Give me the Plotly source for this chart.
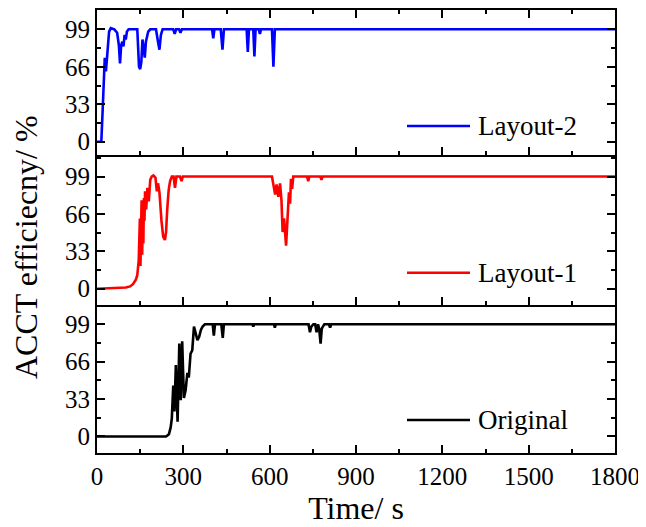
import plotly.graph_objects as go

# ---- data ----
t_layout2 = [0, 15, 20, 23, 27, 31, 35, 38, 42, 48, 60, 70, 76, 80, 84, 88, 92, 96, 100, 104, 110,
             140, 146, 150, 154, 158, 162, 166, 170, 174, 178, 185, 205, 212, 217, 222, 228, 265, 270,
             275, 285, 290, 295, 400, 404, 408, 430, 436, 441, 520, 524, 528, 543, 547, 551, 562, 566,
             570, 608, 613, 618, 1800]
v_layout2 = [0, 0, 30, 52, 74, 62, 75, 90, 97, 100, 99, 96, 85, 69, 85, 88, 84, 94, 90, 97, 99,
             99, 66, 64, 70, 90, 80, 74, 88, 92, 97, 99, 99, 88, 81, 94, 99, 99, 95,
             99, 99, 96, 99, 99, 91, 99, 99, 81, 99, 99, 79, 99, 99, 75, 99, 99, 95,
             99, 99, 66, 99, 99]

t_layout1 = [0, 60, 100, 115, 125, 135, 140, 145, 147, 149, 151, 153, 155, 157, 159, 161, 163, 165,
             167, 171, 175, 180, 185, 190, 196, 203, 208, 212, 217, 224, 230, 236, 240, 244, 249, 254,
             260, 266, 271, 276, 288, 294, 298, 608, 613, 619, 624, 630, 636, 641, 645, 650, 657, 661,
             667, 671, 674, 678, 682, 730, 734, 738, 776, 780, 784, 1800]
v_layout1 = [0, 0.5, 1, 2, 4, 8, 12, 25, 55, 62, 20, 70, 78, 30, 72, 40, 80, 60,
             86, 70, 89, 77, 96, 99, 100, 98, 86, 93, 85, 60, 46, 43, 50, 70, 87, 95,
             99, 99, 89, 99, 99, 95, 99, 99, 91, 83, 92, 81, 93, 78, 50, 62, 38, 58,
             85, 75, 97, 88, 99, 99, 95, 99, 99, 96, 99, 99]

t_original = [0, 240, 250, 256, 260, 265, 269, 274, 280, 286, 291, 296, 302, 308, 314, 319, 325, 331,
              337, 343, 349, 355, 361, 367, 375, 402, 406, 410, 432, 437, 441, 540, 543, 546, 615,
              618, 621, 735, 740, 745, 752, 758, 763, 768, 772, 777, 781, 785, 790, 806, 810, 814, 1800]
v_original = [0, 0, 2, 8, 16, 45, 22, 63, 13, 82, 32, 84, 34, 41, 56, 52, 73, 76,
              97, 91, 85, 88, 94, 97, 99, 99, 89, 99, 99, 87, 99, 99, 97, 99, 99,
              96, 99, 99, 92, 97, 99, 99, 92, 99, 95, 82, 95, 97, 99, 99, 96, 99, 99]

series_names = ["Layout-2", "Layout-1", "Original"]
x_ticks = [0, 300, 600, 900, 1200, 1500, 1800]
y_ticks = [0, 33, 66, 99]

FONT = "Liberation Serif, Times New Roman, serif"
# the page body has an 8px margin; size the figure so it fills the 646x527 window
OFF = 8
W, H = 646 - OFF, 527 - OFF
ML, MR, MT, MB = 97 - OFF, 31, 10 - OFF, 74
PH = H - MT - MB

def yfrac(py):          # py: page pixel
    return (H - MB - (py - OFF)) / PH

def xfrac(px):          # px: page pixel
    return ((px - OFF) - ML) / (W - ML - MR)

fig = go.Figure()
panels = [
    (t_layout2, v_layout2, "#0000FF", "x", "y"),
    (t_layout1, v_layout1, "#FF0000", "x2", "y2"),
    (t_original, v_original, "#000000", "x3", "y3"),
]
for (t, v, c, xa, ya), name in zip(panels, series_names):
    fig.add_trace(go.Scatter(x=t, y=v, mode="lines", name=name, xaxis=xa, yaxis=ya,
                             line=dict(color=c, width=2.6), showlegend=False))

# panel page-pixel extents (top, bottom)
panel_px = [(10, 155), (155, 305), (305, 453)]
y_ranges = [[-11.7, 116], [-14.4, 118], [-14.6, 116]]

def base_axis():
    return dict(showline=True, linecolor="black", linewidth=2,
                ticks="inside", ticklen=8, tickwidth=2, tickcolor="black",
                showgrid=False, zeroline=False,
                tickfont=dict(family=FONT, size=25, color="black"))

layout = dict(width=W, height=H, margin=dict(l=ML, r=MR, t=MT, b=MB, autoexpand=False),
              plot_bgcolor="white", paper_bgcolor="white", showlegend=False,
              font=dict(family=FONT, color="black"))

for i, ((top, bot), yr) in enumerate(zip(panel_px, y_ranges)):
    sfx = "" if i == 0 else str(i + 1)
    xa = base_axis()
    xa.update(domain=[0, 1], range=[0, 1800], tickvals=x_ticks, anchor="y" + sfx,
              mirror="ticks" if i == 0 else False,
              minor=dict(ticks="inside", ticklen=4, tickwidth=2, tickcolor="black", dtick=150, tick0=0),
              showticklabels=(i == 2), automargin=False)
    if i > 0:
        xa["matches"] = "x"
    if i == 2:
        xa["title"] = dict(text="Time/ s", font=dict(family=FONT, size=32, color="black"), standoff=6)
    ya = base_axis()
    ya.update(domain=[yfrac(bot), yfrac(top)], range=yr, tickvals=y_ticks, anchor="x" + sfx,
              mirror="ticks", automargin=False,
              minor=dict(ticks="inside", ticklen=4, tickwidth=2, tickcolor="black", dtick=16.5, tick0=0))
    layout["xaxis" + sfx] = xa
    layout["yaxis" + sfx] = ya

fig.update_layout(**layout)

# legend samples (one per panel)
legend_py = [126, 272.7, 420]
colors = ["#0000FF", "#FF0000", "#000000"]
for name, py, c in zip(series_names, legend_py, colors):
    fig.add_shape(type="line", xref="paper", yref="paper",
                  x0=xfrac(407), x1=xfrac(470), y0=yfrac(py), y1=yfrac(py),
                  line=dict(color=c, width=2.6))
    fig.add_annotation(xref="paper", yref="paper", x=xfrac(476), y=yfrac(py),
                       xanchor="left", yanchor="middle", text=name, showarrow=False,
                       font=dict(family=FONT, size=27, color="black"))

fig.add_annotation(xref="paper", yref="paper", x=xfrac(26), y=yfrac(247),
                   xanchor="center", yanchor="middle", text="ACCT efficiecny/ %",
                   textangle=-90, showarrow=False,
                   font=dict(family=FONT, size=32, color="black"))

fig.write_html("out.html")
